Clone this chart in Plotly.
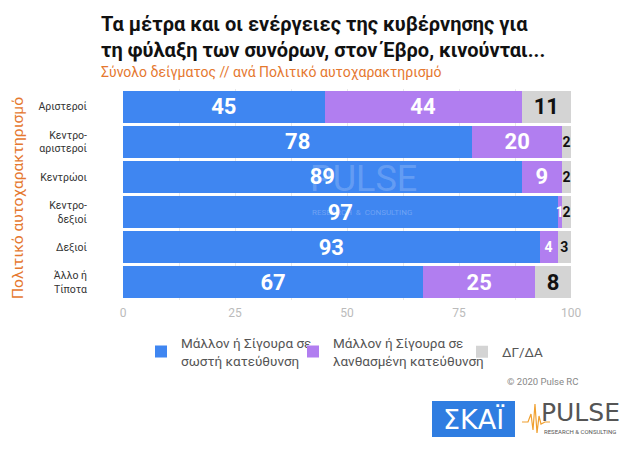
import plotly.graph_objects as go

categories = ["Αριστεροί", "Κεντρο-<br>αριστεροί", "Κεντρώοι", "Κεντρο-<br>δεξιοί", "Δεξιοί", "Άλλο ή<br>Τίποτα"]
right_dir = [45, 78, 89, 97, 93, 67]
wrong_dir = [44, 20, 9, 1, 4, 25]
dk_na = [11, 2, 2, 2, 3, 8]
series_names = ["Μάλλον ή Σίγουρα σε<br>σωστή κατεύθυνση",
                "Μάλλον ή Σίγουρα σε<br>λανθασμένη κατεύθυνση",
                "ΔΓ/ΔΑ"]
tick_vals = [0, 25, 50, 75, 100]

colors = ["#3f86f1", "#b17ef0", "#d4d4d4"]
W, H = 630, 453
L, R, T, B = 123, 59, 89, 153

def px(xp):
    return (xp - L) / (W - L - R)

def py(yp):
    return (H - B - yp) / (H - T - B)

def sizes(vals):
    return [22 if v >= 5 else 14 for v in vals]

fig = go.Figure()
legend_ids = ["legend", "legend2", "legend3"]
for i, (name, vals, col, txtcol) in enumerate([
    (series_names[0], right_dir, colors[0], "white"),
    (series_names[1], wrong_dir, colors[1], "white"),
    (series_names[2], dk_na, colors[2], "#111111"),
]):
    fig.add_trace(go.Bar(
        y=categories, x=vals, name=name, orientation="h",
        marker=dict(color=col, line=dict(width=0)),
        text=[str(v) for v in vals], textposition="inside",
        insidetextanchor="middle", constraintext="none",
        textfont=dict(family="Roboto, Arial", size=sizes(vals), color=txtcol, weight="bold"),
        cliponaxis=False, hoverinfo="skip", legend=legend_ids[i],
    ))

legend_common = dict(orientation="h", yanchor="middle", xanchor="left",
                     font=dict(family="Roboto, Arial", size=13.5, color="#555555"),
                     bgcolor="rgba(0,0,0,0)")
fig.update_layout(
    width=W, height=H, barmode="stack", bargap=0.09,
    margin=dict(l=L, r=R, t=T, b=B, autoexpand=False),
    paper_bgcolor="white", plot_bgcolor="white",
    font=dict(family="Roboto, Arial", color="#333"),
    xaxis=dict(range=[0, 100], tickvals=tick_vals, showgrid=True, gridcolor="#e8e8e8",
               minor=dict(dtick=12.5, showgrid=True, gridcolor="#e8e8e8"),
               zeroline=False, tickfont=dict(size=12, color="#bbbbbb"), ticks="",
               ticklabelstandoff=4, fixedrange=True),
    yaxis=dict(autorange="reversed", tickfont=dict(size=10.5, color="#333333"), ticks="",
               ticklabelstandoff=35, showgrid=False, fixedrange=True),
    legend=dict(x=px(141), y=py(352), **legend_common),
    legend2=dict(x=px(293), y=py(352), **legend_common),
    legend3=dict(x=px(462), y=py(352), **legend_common),
    showlegend=True,
)

ann = [
    dict(text="<b>Τα μέτρα και οι ενέργειες της κυβέρνησης για<br>τη φύλαξη των συνόρων, στον Έβρο, κινούνται...</b>",
         x=px(99), y=py(10), xanchor="left", yanchor="top", align="left",
         font=dict(family="Roboto, Arial", size=20, color="#111111")),
    dict(text="Σύνολο δείγματος // ανά Πολιτικό αυτοχαρακτηρισμό",
         x=px(99), y=py(72), xanchor="left", yanchor="middle", align="left",
         font=dict(family="Roboto, Arial", size=14, color="#e5782f")),
    dict(text="Πολιτικό αυτοχαρακτηρισμό", textangle=-90,
         x=px(18), y=py(198), xanchor="center", yanchor="middle",
         font=dict(family="Roboto", size=15.5, color="#e5782f")),
    dict(text="© 2020 Pulse RC", x=px(580), y=py(381), xanchor="right", yanchor="middle",
         font=dict(size=9.5, color="#888888")),
    dict(text="PULSE", x=px(363), y=py(179), xanchor="center", yanchor="middle",
         font=dict(family="Roboto", size=36, color="rgba(255,255,255,0.2)")),
    dict(text="RESEARCH  &  CONSULTING", x=px(362), y=py(212), xanchor="center", yanchor="middle",
         font=dict(family="Roboto", size=8, color="rgba(255,255,255,0.25)")),
    dict(text="ΣΚΑΪ", x=px(473), y=py(419), xanchor="center", yanchor="middle",
         font=dict(family="DejaVu Sans", size=27, color="white")),
    dict(text="PULSE", x=px(580), y=py(412), xanchor="center", yanchor="middle",
         font=dict(family="DejaVu Sans", size=25, color="#555555")),
    dict(text="RESEARCH & CONSULTING", x=px(580), y=py(431), xanchor="center", yanchor="middle",
         font=dict(family="Roboto", size=6, color="#555555")),
]
for a in ann:
    a.update(xref="paper", yref="paper", showarrow=False)
fig.update_layout(annotations=ann)

fig.add_shape(type="rect", xref="paper", yref="paper",
              x0=px(432), x1=px(515), y0=py(401), y1=py(437),
              fillcolor="#2f7de1", line=dict(width=0), layer="above")
pts = [(522, 422), (528, 422), (531, 414), (533, 430), (535, 404), (537, 433), (539, 416), (541, 424), (545, 422), (550, 422)]
path = "M " + " L ".join(f"{px(x):.4f},{py(y):.4f}" for x, y in pts)
fig.add_shape(type="path", xref="paper", yref="paper", path=path,
              line=dict(color="#f0a030", width=1.2), layer="above")

fig.write_html("out.html", config={"displayModeBar": False},
               post_script="document.body.style.margin='0px';document.body.style.overflow='hidden';")
